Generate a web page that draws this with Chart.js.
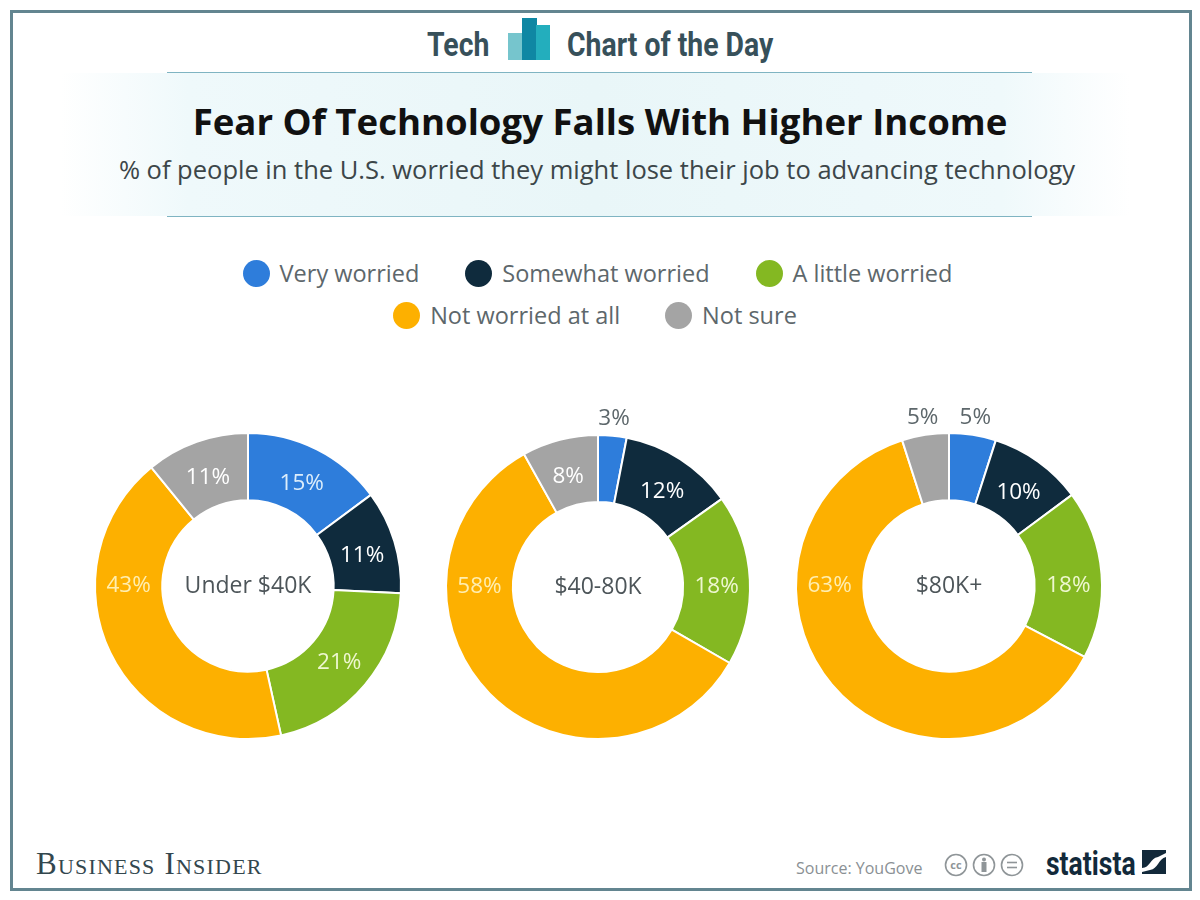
<!DOCTYPE html>
<html>
<head>
<meta charset="utf-8">
<script src="https://cdn.jsdelivr.net/npm/chart.js@4"></script>
<style>
html, body { margin: 0; padding: 0; background: #fff; }
body { width: 1200px; height: 900px; position: relative; overflow: hidden; font-family: "Open Sans", sans-serif; color: #4f5a5f; }
.abs { position: absolute; white-space: nowrap; }
#frame { left: 10px; top: 10px; width: 1176px; height: 875px; border: 3px solid #638590; }
#band { left: 60px; top: 73px; width: 1070px; height: 143px; background: linear-gradient(90deg, #fff 0%, #eff9fb 12%, #e9f6f8 50%, #eff9fb 88%, #fff 100%); }
.rule { left: 167px; width: 865px; height: 1px; background: #7fb4c2; }
.head { font-family: Roboto, sans-serif; font-weight: 700; font-size: 34px; color: #37505a; transform-origin: left top; transform: scaleX(0.835); }
#title { left: 0; width: 1200px; top: 96px; text-align: center; font-weight: 700; font-size: 36.6px; color: #111; }
#subtitle { left: 0; width: 1194px; top: 152px; text-align: center; font-size: 25.5px; color: #3c4649; }
.legendRow { left: 0; width: 1195px; display: flex; justify-content: center; gap: 47px; font-size: 23.5px; color: #5d676b; }
.legendItem { display: flex; align-items: center; gap: 10px; }
.dot { width: 27px; height: 27px; border-radius: 50%; display: inline-block; }
canvas { position: absolute; }
#bi { left: 36px; top: 846px; font-family: "Liberation Serif", serif; font-variant: small-caps; font-size: 31px; letter-spacing: 1.2px; color: #33474e; }
#source { left: 796px; top: 857px; font-size: 16px; color: #8a9094; }
#statista { left: 1046px; top: 843px; font-family: Roboto, sans-serif; font-weight: 700; font-size: 34px; color: #12293a; transform-origin: left top; transform: scaleX(0.78); }
</style>
</head>
<body>
<div class="abs" id="frame"></div>
<div class="abs" id="band"></div>
<div class="abs rule" style="top:72px"></div>
<div class="abs rule" style="top:216px"></div>
<div class="abs head" style="left:427px;top:24px">Tech</div>
<svg class="abs" style="left:507px;top:18px" width="44" height="42">
  <rect x="1" y="15" width="15" height="27" fill="#76c5cd"/>
  <rect x="15" y="0" width="15" height="42" fill="#0f87a3"/>
  <rect x="29" y="7" width="14" height="35" fill="#23aebd"/>
</svg>
<div class="abs head" style="left:567px;top:24px">Chart of the Day</div>
<div class="abs" id="title">Fear Of Technology Falls With Higher Income</div>
<div class="abs" id="subtitle">% of people in the U.S. worried they might lose their job to advancing technology</div>
<div class="abs legendRow" id="legend1" style="top:257px;gap:46px"></div>
<div class="abs legendRow" id="legend2" style="top:299px;width:1190px;gap:45px"></div>
<canvas id="chart1" width="400" height="400" style="left:48px;top:386px"></canvas>
<canvas id="chart2" width="400" height="400" style="left:398px;top:387px"></canvas>
<canvas id="chart3" width="400" height="400" style="left:749px;top:386px"></canvas>
<div class="abs" id="bi">Business Insider</div>
<div class="abs" id="source">Source: YouGove</div>
<svg class="abs" style="left:944px;top:853px" width="82" height="24" fill="none" stroke="#8f9598" stroke-width="1.6">
  <circle cx="12" cy="12" r="10.5"/>
  <text x="12" y="16" font-family="Open Sans" font-size="11" font-weight="700" text-anchor="middle" fill="#8f9598" stroke="none">cc</text>
  <circle cx="40" cy="12" r="10.5"/>
  <circle cx="40" cy="6.5" r="2" fill="#8f9598" stroke="none"/>
  <rect x="37.5" y="9" width="5" height="10" fill="#8f9598" stroke="none"/>
  <circle cx="68" cy="12" r="10.5"/>
  <line x1="63" y1="9.5" x2="73" y2="9.5"/>
  <line x1="63" y1="14.5" x2="73" y2="14.5"/>
</svg>
<div class="abs" id="statista">statista</div>
<svg class="abs" style="left:1142px;top:850px" width="24" height="24">
  <rect width="24" height="24" fill="#12293a"/>
  <path d="M0 18 C8 18 8 8 16 7 L24 3 L24 7 C16 9 16 19 8 20 L0 22 Z" fill="#fff"/>
</svg>

<script>
const categories = ['Very worried', 'Somewhat worried', 'A little worried', 'Not worried at all', 'Not sure'];
const categoryColors = ['#2e7ddb', '#0f2b3d', '#84b822', '#fdb000', '#a4a4a4'];
const labelColors = ['#dcedfb', '#ffffff', '#eef7d0', '#ffeeb0', '#ffffff'];
const legendRow1 = [0, 1, 2];
const legendRow2 = [3, 4];

const under40k = [15, 11, 21, 43, 11];
const from40to80k = [3, 12, 18, 58, 8];
const over80k = [5, 10, 18, 63, 5];

function fillLegend(id, indexes) {
    var row = document.getElementById(id);
    for (const i of indexes) {
        var item = document.createElement('span');
        item.className = 'legendItem';
        item.innerHTML = '<span class="dot" style="background:' + categoryColors[i] + '"></span>' + categories[i];
        row.appendChild(item);
    }
}
fillLegend('legend1', legendRow1);
fillLegend('legend2', legendRow2);

// angle to put the label at: big slices crossing 3 or 9 o'clock sit level with the centre
function labelAngle(arc) {
    if (arc.endAngle - arc.startAngle > 1) {
        for (const level of [0, Math.PI, 2 * Math.PI]) {
            if (arc.startAngle < level && arc.endAngle > level) {
                return level;
            }
        }
    }
    return (arc.startAngle + arc.endAngle) / 2;
}

// percent labels on the rings, small slices get theirs outside
const sliceLabels = {
    id: 'sliceLabels',
    afterDatasetsDraw(chart) {
        var ctx = chart.ctx;
        var arcs = chart.getDatasetMeta(0).data;
        var values = chart.data.datasets[0].data;
        ctx.save();
        ctx.font = '22.5px "Open Sans"';
        ctx.textAlign = 'center';
        ctx.textBaseline = 'middle';
        arcs.forEach(function (arc, i) {
            var mid = labelAngle(arc);
            var outside = values[i] <= 5;
            var r = outside ? arc.outerRadius + 17 : (arc.innerRadius + arc.outerRadius) / 2;
            var x = arc.x + Math.cos(mid) * r;
            var y = arc.y + Math.sin(mid) * r;
            if (!outside && y < arc.y - 1) {
                y += 4;
            }
            ctx.fillStyle = outside ? '#5d676b' : labelColors[i];
            ctx.fillText(values[i] + '%', x, y);
        });
        // income group in the hole
        ctx.font = '23px "Open Sans"';
        ctx.fillStyle = '#4d5559';
        ctx.fillText(chart.options.plugins.centerText, arcs[0].x, arcs[0].y);
        ctx.restore();
    }
};

function ShowDonut(canvasId, values, centerText, radius, hole) {
    new Chart(document.getElementById(canvasId).getContext('2d'), {
        type: 'doughnut',
        data: {
            labels: categories,
            datasets: [{
                data: values,
                backgroundColor: categoryColors,
                borderColor: '#ffffff',
                borderWidth: 2,
                radius: radius,
                cutout: hole
            }]
        },
        options: {
            responsive: false,
            animation: false,
            plugins: {
                legend: { display: false },
                tooltip: { enabled: false },
                centerText: centerText
            }
        },
        plugins: [sliceLabels]
    });
}

document.fonts.load('22px "Open Sans"').finally(function () {
    ShowDonut('chart1', under40k, 'Under $40K', 153, '56%');
    ShowDonut('chart2', from40to80k, '$40-80K', 152, '56%');
    ShowDonut('chart3', over80k, '$80K+', 153, '56%');
});
</script>
</body>
</html>
